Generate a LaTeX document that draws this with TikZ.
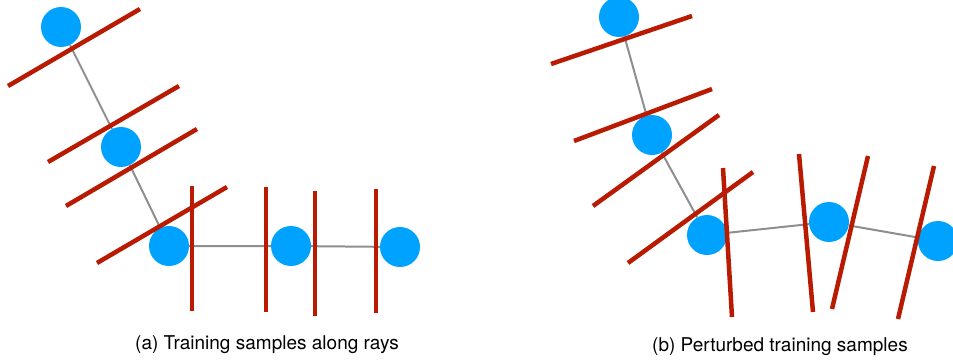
\documentclass[tikz,border=0pt]{standalone}
\usepackage{fontspec}
\setmainfont{TeX Gyre Heros}
\usepackage{tikz}
\usetikzlibrary{positioning}
\definecolor{skyblue}{HTML}{00A2FF}
\definecolor{rayred}{HTML}{B91A02}
\definecolor{linkgrey}{HTML}{8E8E8E}
\begin{document}
\begin{tikzpicture}[x=1pt,y=-1pt,
    sample/.style={circle,fill=skyblue,minimum size=40pt,inner sep=0pt},
    link/.style={linkgrey,line width=2pt},
    plane/.style={rayred,line width=4.5pt},
    caption/.style={anchor=base,font=\fontsize{19}{21}\selectfont}]
  \useasboundingbox (0,0) rectangle (953,364);
  % (a) samples along rays
  \node[sample] (a1) at (61,27) {};
  \node[sample] (a2) at (121,147) {};
  \node[sample] (a3) at (169,246) {};
  \node[sample] (a4) at (291,246) {};
  \node[sample] (a5) at (400,247) {};
  \draw[link] (a1) -- (a2) -- (a3) -- (a4) -- (a5);
  \draw[plane] (8,86) -- (140,9);
  \draw[plane] (48,162) -- (179,86);
  \draw[plane] (66,206) -- (197,129);
  \draw[plane] (97,263) -- (227,187);
  \draw[plane] (192,186) -- (192,311);
  \draw[plane] (266,187) -- (266,312);
  \draw[plane] (315,191) -- (315,316);
  \draw[plane] (376,189) -- (376,313);
  \node[caption] (capa) at (267,349) {(a) Training samples along rays};
  % (b) perturbed samples
  \node[sample] (b1) at (619,17) {};
  \node[sample] (b2) at (652,135) {};
  \node[sample] (b3) at (707,235) {};
  \node[sample] (b4) at (829,222) {};
  \node[sample] (b5) at (938,241) {};
  \draw[link] (b1) -- (b2) -- (b3) -- (b4) -- (b5);
  \draw[plane] (551,64) -- (692,16);
  \draw[plane] (574,141) -- (712,89);
  \draw[plane] (593,206) -- (719,115);
  \draw[plane] (628,263) -- (753,172);
  \draw[plane] (723,168) -- (732,317);
  \draw[plane] (799,154) -- (813,312);
  \draw[plane] (868,156) -- (832,309);
  \draw[plane] (934,166) -- (898,319);
  \node[caption] (capb) at (780,351) {(b) Perturbed training samples};
\end{tikzpicture}
\end{document}
